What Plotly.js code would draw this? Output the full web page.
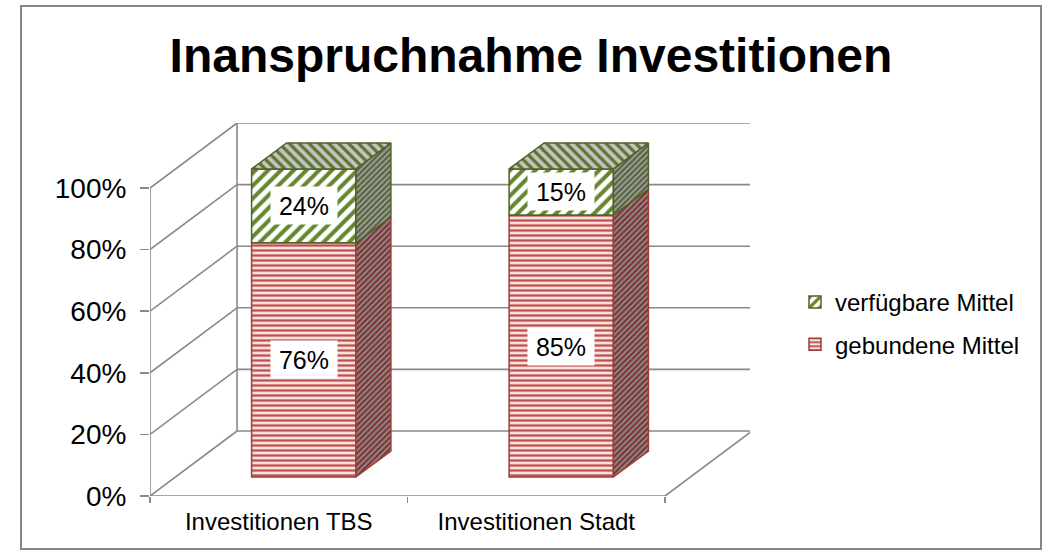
<!DOCTYPE html>
<html>
<head>
<meta charset="utf-8">
<script src="https://cdn.plot.ly/plotly-3.0.1.min.js"></script>
<style>html,body{margin:0;padding:0;background:#fff;} #chart{width:1046px;height:555px;}</style>
</head>
<body>
<div id="chart"></div>
<script>
// ---- data ----
const categories = ['Investitionen TBS', 'Investitionen Stadt'];
const gebunden = [0.76, 0.85];
const verfuegbar = [0.24, 0.15];
const seriesNames = ['gebundene Mittel', 'verfügbare Mittel'];
const yTickVals = [0, 0.2, 0.4, 0.6, 0.8, 1.0];
const yTickLabels = ['0%', '20%', '40%', '60%', '80%', '100%'];
const chartTitle = 'Inanspruchnahme Investitionen';

// ---- 3D look (positions / styles in axis units) ----
const DX = 0.338, DY = 0.211;   // depth of the floor / walls
const FX = 0.097, FY = 0.062;   // front face offset of bars
const W = 0.405;                // bar width
const BDX = 0.136, BDY = 0.084; // bar depth
const XMIN = -0.5, XEND = 1.83;
const XFRONT_END = categories.length - 0.5;
const GRID = '#898989';
const FONT = '"Liberation Sans", Arial, Helvetica, sans-serif';

const idx = categories.map((c, i) => i);
const redBorder = '#A33B38', greenBorder = '#4F6228';

const traces = [];
traces.push({
  type: 'bar', name: seriesNames[0], x: idx.map(i => i + FX), y: gebunden,
  base: gebunden.map(() => FY), width: W, legendgroup: 'g1', legendrank: 2,
  marker: {color: '#F2DCDB', line: {color: redBorder, width: 1.5},
    pattern: {shape: '-', fgcolor: '#C0504D', bgcolor: '#F5E3E2', size: 5, solidity: 0.45}},
  hoverinfo: 'skip'
});
traces.push({
  type: 'bar', name: seriesNames[1], x: idx.map(i => i + FX), y: verfuegbar,
  base: gebunden.map(v => FY + v), width: W, legendgroup: 'g2', legendrank: 1,
  marker: {color: '#FFFFFF', line: {color: greenBorder, width: 1.5},
    pattern: {shape: '/', fgcolor: '#65862F', bgcolor: '#FFFFFF', size: 9, solidity: 0.45}},
  hoverinfo: 'skip'
});

function face(xs, ys, fg, bg, shape, size, line) {
  traces.push({type: 'scatter', mode: 'lines', x: xs, y: ys, fill: 'toself',
    fillcolor: bg, fillpattern: {shape: shape, fgcolor: fg, bgcolor: bg, size: size, solidity: 0.45},
    line: {color: line, width: 1.5}, showlegend: false, hoverinfo: 'skip'});
}

idx.forEach(i => {
  const x0 = i + FX - W / 2, x1 = i + FX + W / 2;
  const b1 = FY, t1 = FY + gebunden[i];
  const t2 = t1 + verfuegbar[i];
  // right side faces
  face([x1, x1 + BDX, x1 + BDX, x1, x1], [b1, b1 + BDY, t1 + BDY, t1, b1], '#7A2826', '#8F8484', '/', 4, redBorder);
  face([x1, x1 + BDX, x1 + BDX, x1, x1], [t1, t1 + BDY, t2 + BDY, t2, t1], '#4A5C28', '#9A9A9A', '/', 4, greenBorder);
  // top face
  face([x0, x0 + BDX, x1 + BDX, x1, x0], [t2, t2 + BDY, t2 + BDY, t2, t2], '#5A742C', '#C4C4C4', '\\', 7, greenBorder);
});

// data labels
const annotations = [];
idx.forEach(i => {
  [[gebunden[i], FY], [verfuegbar[i], FY + gebunden[i]]].forEach(([v, b]) => {
    annotations.push({x: i + FX, y: b + v / 2, xref: 'x', yref: 'y', showarrow: false,
      text: Math.round(v * 100) + '%', bgcolor: '#FFFFFF', width: 64, height: 35,
      font: {family: FONT, size: 25, color: '#000'}});
  });
});

// walls, floor, gridlines
const shapes = [];
const ln = (x0, y0, x1, y1) => shapes.push({type: 'line', xref: 'x', yref: 'y', x0, y0, x1, y1, layer: 'below', line: {color: GRID, width: 1.6}});
yTickVals.forEach(v => {
  ln(XMIN, v, XMIN + DX, v + DY);          // side wall diagonal
  ln(XMIN + DX, v + DY, XEND, v + DY);     // back wall gridline
});
ln(XMIN, 0, XMIN, yTickVals[yTickVals.length - 1]);                 // front vertical axis
ln(XMIN + DX, DY, XMIN + DX, yTickVals[yTickVals.length - 1] + DY); // back wall edge
ln(XMIN, 0, XFRONT_END, 0);                                         // floor front edge
ln(XFRONT_END, 0, XFRONT_END + DX, DY);                             // floor right edge
// outer chart border (paper coords of plot area)
shapes.push({type: 'rect', xref: 'paper', yref: 'paper', x0: (21 - 150) / 600, x1: (1041 - 150) / 600,
  y0: (496 - 549) / 373, y1: (496 - 6) / 373, line: {color: '#868686', width: 2}, layer: 'below'});

const layout = {
  width: 1046, height: 555,
  margin: {l: 150, r: 296, t: 123, b: 59, pad: 0},
  paper_bgcolor: '#FFFFFF', plot_bgcolor: 'rgba(0,0,0,0)',
  font: {family: FONT, color: '#000'},
  title: {text: '<b>' + chartTitle + '</b>', x: 531 / 1046, xanchor: 'center', xref: 'container',
    y: 1 - 55 / 555, yanchor: 'middle', yref: 'container', font: {family: FONT, size: 48, color: '#000'}},
  barmode: 'overlay',
  xaxis: {range: [XMIN, XEND], tickvals: idx, ticktext: categories, ticks: '',
    showgrid: false, zeroline: false, showline: false, fixedrange: true,
    tickfont: {family: FONT, size: 24, color: '#000'}, ticklabelstandoff: 9,
    minor: {tickvals: [-0.5, 0.5, 1.5], ticks: 'outside', ticklen: 6, tickwidth: 1.6, tickcolor: GRID, showgrid: false}},
  yaxis: {range: [0, 1 + DY], tickvals: yTickVals, ticktext: yTickLabels, ticks: 'outside',
    ticklen: 9, tickwidth: 1.6, tickcolor: GRID, showgrid: false, zeroline: false, showline: false,
    fixedrange: true, tickfont: {family: FONT, size: 28, color: '#000'}, ticklabelstandoff: 8},
  showlegend: true,
  legend: {x: (795 - 150) / 600, xanchor: 'left', y: (496 - 323.5) / 373, yanchor: 'middle',
    traceorder: 'grouped', tracegroupgap: 8, bgcolor: 'rgba(0,0,0,0)',
    font: {family: FONT, size: 24, color: '#000'}},
  annotations: annotations,
  shapes: shapes
};

Plotly.newPlot('chart', traces, layout, {displayModeBar: false, staticPlot: true});
</script>
</body>
</html>
